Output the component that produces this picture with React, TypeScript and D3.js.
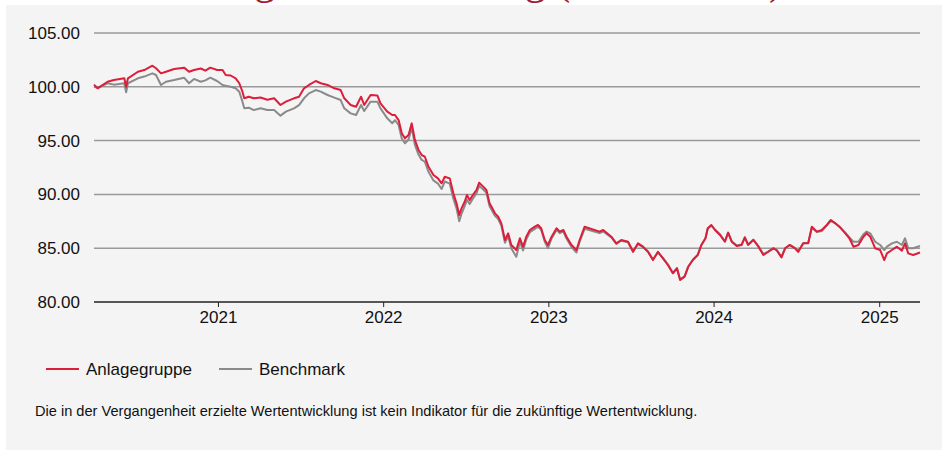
import * as d3 from 'd3';
import { useEffect, useRef } from 'react';

// Indexierte Werte
const dates = [
  '2020-04-01', '2020-04-09', '2020-05-01', '2020-05-15', '2020-06-07', '2020-06-11', '2020-06-15',
  '2020-07-07', '2020-07-21', '2020-08-08', '2020-08-16', '2020-08-27', '2020-09-07', '2020-09-25',
  '2020-10-17', '2020-10-28', '2020-11-08', '2020-11-23', '2020-12-03', '2020-12-14', '2020-12-29',
  '2021-01-10', '2021-01-17', '2021-01-28', '2021-02-08', '2021-02-16', '2021-02-23', '2021-02-27',
  '2021-03-09', '2021-03-20', '2021-04-04', '2021-04-19', '2021-05-04', '2021-05-18', '2021-05-30',
  '2021-06-17', '2021-06-28', '2021-07-09', '2021-07-20', '2021-08-04', '2021-08-15', '2021-08-30',
  '2021-09-14', '2021-09-28', '2021-10-06', '2021-10-20', '2021-11-01', '2021-11-12', '2021-11-19',
  '2021-12-03', '2021-12-18', '2021-12-25', '2022-01-09', '2022-01-20', '2022-01-26', '2022-02-03',
  '2022-02-10', '2022-02-17', '2022-02-25', '2022-03-04', '2022-03-11', '2022-03-19', '2022-03-26',
  '2022-04-02', '2022-04-10', '2022-04-21', '2022-05-01', '2022-05-09', '2022-05-16', '2022-05-27',
  '2022-06-04', '2022-06-11', '2022-06-17', '2022-06-22', '2022-06-29', '2022-07-04', '2022-07-10',
  '2022-07-17', '2022-07-25', '2022-07-31', '2022-08-09', '2022-08-16', '2022-08-23', '2022-09-04',
  '2022-09-11', '2022-09-18', '2022-09-26', '2022-10-03', '2022-10-10', '2022-10-21', '2022-10-29',
  '2022-11-05', '2022-11-12', '2022-11-20', '2022-12-01', '2022-12-08', '2022-12-15', '2022-12-23',
  '2022-12-30', '2023-01-07', '2023-01-18', '2023-01-25', '2023-02-02', '2023-02-09', '2023-02-20',
  '2023-03-03', '2023-03-10', '2023-03-21', '2023-04-23', '2023-05-01', '2023-05-19', '2023-05-30',
  '2023-06-10', '2023-06-25', '2023-07-06', '2023-07-17', '2023-07-28', '2023-08-08', '2023-08-19',
  '2023-08-30', '2023-09-10', '2023-09-21', '2023-10-02', '2023-10-11', '2023-10-18', '2023-10-28',
  '2023-11-05', '2023-11-15', '2023-11-26', '2023-12-04', '2023-12-13', '2023-12-18', '2023-12-26',
  '2024-01-03', '2024-01-14', '2024-01-25', '2024-02-01', '2024-02-09', '2024-02-20', '2024-03-02',
  '2024-03-09', '2024-03-16', '2024-03-28', '2024-04-08', '2024-04-19', '2024-04-30', '2024-05-11',
  '2024-05-18', '2024-05-29', '2024-06-06', '2024-06-16', '2024-06-28', '2024-07-05', '2024-07-16',
  '2024-07-27', '2024-08-04', '2024-08-15', '2024-08-26', '2024-09-06', '2024-09-15', '2024-09-25',
  '2024-10-04', '2024-10-17', '2024-10-26', '2024-11-04', '2024-11-15', '2024-11-26', '2024-12-03',
  '2024-12-11', '2024-12-22', '2025-01-02', '2025-01-11', '2025-01-17', '2025-01-28', '2025-02-08',
  '2025-02-19', '2025-02-26', '2025-03-05', '2025-03-16', '2025-03-31',
];

const anlagegruppe = [
  100.2, 99.86, 100.47, 100.63, 100.79, 100.01, 100.79,
  101.4, 101.56, 101.96, 101.72, 101.25, 101.4, 101.65,
  101.78, 101.4, 101.56, 101.7, 101.5, 101.78, 101.56,
  101.56, 101.1, 101.05, 100.79, 100.33, 99.55, 98.93,
  99.08, 98.93, 99.0, 98.8, 98.93, 98.31, 98.62,
  98.93, 99.08, 99.86, 100.17, 100.54, 100.33, 100.17,
  99.86, 99.7, 98.93, 98.31, 98.15, 99.08, 98.31,
  99.24, 99.2, 98.47, 97.69, 97.38, 97.38, 96.91,
  95.68, 95.21, 95.52, 96.6, 95.06, 94.13, 93.66,
  93.5, 92.57, 91.8, 91.49, 91.03, 91.64, 91.49,
  90.1, 89.17, 88.09, 88.7, 89.32, 89.94, 89.47,
  89.94, 90.41, 91.09, 90.72, 90.41, 89.17, 88.24,
  87.93, 87.31, 85.76, 86.38, 85.3, 84.83, 85.92,
  85.14, 86.07, 86.69, 87.0, 87.16, 86.85, 85.76,
  85.3, 86.07, 86.85, 86.54, 86.69, 86.07, 85.3,
  84.83, 85.76, 87.0, 86.54, 86.69, 86.07, 85.45,
  85.76, 85.6, 84.67, 85.45, 85.14, 84.67, 83.9,
  84.67, 84.06, 83.44, 82.67, 83.13, 82.04, 82.35,
  83.28, 83.9, 84.37, 85.3, 85.92, 86.85, 87.16,
  86.69, 86.23, 85.6, 86.44, 85.6, 85.2, 85.3,
  86.01, 85.3, 85.76, 85.14, 84.37, 84.67, 84.99,
  84.83, 84.15, 84.99, 85.3, 84.99, 84.67, 85.45,
  85.45, 87.0, 86.54, 86.69, 87.16, 87.62, 87.31,
  87.0, 86.38, 85.92, 85.14, 85.3, 86.07, 86.38,
  86.07, 84.99, 84.83, 83.9, 84.52, 84.83, 85.14,
  84.77, 85.45, 84.52, 84.37, 84.6,
];

const benchmark = [
  100.0, 99.9, 100.33, 100.2, 100.33, 99.49, 100.33,
  100.79, 100.95, 101.25, 101.1, 100.17, 100.47, 100.63,
  100.85, 100.33, 100.73, 100.47, 100.6, 100.85, 100.54,
  100.17, 100.1, 100.01, 99.86, 99.55, 98.62, 98.0,
  98.06, 97.84, 98.0, 97.84, 97.84, 97.32, 97.69,
  98.0, 98.3, 98.93, 99.39, 99.7, 99.55, 99.24,
  99.0, 98.77, 98.0, 97.53, 97.38, 98.31, 97.75,
  98.62, 98.62, 98.0, 97.07, 96.61, 96.9, 96.45,
  95.2, 94.75, 95.1, 96.2, 94.6, 93.7, 93.2,
  93.05, 92.1, 91.3, 91.0, 90.5, 91.2, 91.0,
  89.6, 88.7, 87.5, 88.2, 88.9, 89.5, 89.1,
  89.6, 90.1, 90.8, 90.45, 90.15, 88.9, 88.0,
  87.7, 87.1, 85.5, 86.1, 85.0, 84.2, 85.6,
  84.8, 85.8, 86.5, 86.8, 87.0, 86.7, 85.6,
  85.0, 85.9, 86.7, 86.4, 86.55, 85.9, 85.1,
  84.6, 85.6, 86.8, 86.4, 86.55, 86.0, 85.4,
  85.7, 85.55, 84.7, 85.4, 85.1, 84.7, 83.95,
  84.6, 84.1, 83.5, 82.7, 83.15, 82.1, 82.4,
  83.3, 83.9, 84.4, 85.3, 85.9, 86.8, 87.1,
  86.75, 86.3, 85.65, 86.45, 85.65, 85.25, 85.35,
  86.0, 85.35, 85.8, 85.2, 84.45, 84.7, 85.0,
  84.85, 84.2, 85.0, 85.3, 85.0, 84.7, 85.45,
  85.5, 86.9, 86.5, 86.6, 87.1, 87.55, 87.3,
  87.0, 86.45, 86.0, 85.6, 85.6, 86.3, 86.54,
  86.38, 85.6, 85.3, 84.83, 85.14, 85.45, 85.6,
  85.3, 85.92, 84.99, 84.99, 85.2,
];

const seriesNames = ['Anlagegruppe', 'Benchmark'];
const seriesColors = ['#dc1e3a', '#8a8a8a'];
const yTicks = [80, 85, 90, 95, 100, 105];
const xTickYears = [2021, 2022, 2023, 2024, 2025];
const title = 'Wertentwicklung seit Lancierung (Basis = 100)';
const footnote =
  'Die in der Vergangenheit erzielte Wertentwicklung ist kein Indikator für die zukünftige Wertentwicklung.';

export default function App() {
  const svgRef = useRef<SVGSVGElement | null>(null);

  useEffect(() => {
    const width = 942;
    const height = 450;
    const margin = { top: 33, right: 22, bottom: 148, left: 94 };
    const font = '"Liberation Sans", Arial, sans-serif';

    const parse = d3.timeParse('%Y-%m-%d');
    const x = d3
      .scaleTime()
      .domain([parse('2020-04-01')!, parse('2025-03-31')!])
      .range([margin.left, width - margin.right]);
    const y = d3
      .scaleLinear()
      .domain([80, 105])
      .range([height - margin.bottom, margin.top]);

    d3.select(svgRef.current).selectAll('*').remove();
    const svg = d3.select(svgRef.current).attr('width', width).attr('height', height);

    // Hintergrund
    svg.append('rect').attr('width', width).attr('height', height).attr('fill', '#ffffff');
    svg
      .append('rect')
      .attr('x', 6)
      .attr('y', 5)
      .attr('width', width - 6)
      .attr('height', height - 5)
      .attr('fill', '#f4f4f4');

    // Titel (in der Vorlage oben abgeschnitten)
    svg
      .append('text')
      .attr('x', 783)
      .attr('y', -6)
      .attr('text-anchor', 'end')
      .attr('font-family', '"Liberation Serif", "Times New Roman", serif')
      .attr('font-size', '42px')
      .attr('fill', '#a6192e')
      .text(title);

    // Gitterlinien + Y-Beschriftung
    yTicks.forEach((v) => {
      if (v !== 80) {
        svg
          .append('line')
          .attr('x1', margin.left)
          .attr('x2', width - margin.right)
          .attr('y1', y(v))
          .attr('y2', y(v))
          .attr('stroke', '#9a9a9a')
          .attr('stroke-width', 1.5);
      }
      svg
        .append('text')
        .attr('x', 80)
        .attr('y', y(v))
        .attr('dy', '0.35em')
        .attr('text-anchor', 'end')
        .attr('font-family', font)
        .attr('font-size', '17px')
        .attr('fill', '#111')
        .text(v.toFixed(2));
    });

    // X-Achse
    svg
      .append('line')
      .attr('x1', margin.left)
      .attr('x2', width - margin.right)
      .attr('y1', y(80))
      .attr('y2', y(80))
      .attr('stroke', '#222')
      .attr('stroke-width', 1.5);

    xTickYears.forEach((yr) => {
      const xp = x(new Date(yr, 0, 1));
      svg
        .append('line')
        .attr('x1', xp)
        .attr('x2', xp)
        .attr('y1', y(80))
        .attr('y2', y(80) + 5)
        .attr('stroke', '#222')
        .attr('stroke-width', 1);
      svg
        .append('text')
        .attr('x', xp)
        .attr('y', 323)
        .attr('text-anchor', 'middle')
        .attr('font-family', font)
        .attr('font-size', '17px')
        .attr('fill', '#111')
        .text(String(yr));
    });

    // Linien
    const parsed = dates.map((d) => parse(d)!);
    const line = d3
      .line<number>()
      .x((_, i) => x(parsed[i]))
      .y((v) => y(v));

    [benchmark, anlagegruppe].forEach((values, k) => {
      svg
        .append('path')
        .datum(values)
        .attr('d', line)
        .attr('fill', 'none')
        .attr('stroke', k === 0 ? seriesColors[1] : seriesColors[0])
        .attr('stroke-width', 2)
        .attr('stroke-linejoin', 'round');
    });

    // Legende
    const legendX = [46, 219];
    seriesNames.forEach((name, i) => {
      svg
        .append('line')
        .attr('x1', legendX[i])
        .attr('x2', legendX[i] + 33)
        .attr('y1', 369)
        .attr('y2', 369)
        .attr('stroke', seriesColors[i])
        .attr('stroke-width', 2);
      svg
        .append('text')
        .attr('x', legendX[i] + 40)
        .attr('y', 375)
        .attr('font-family', font)
        .attr('font-size', '17px')
        .attr('fill', '#111')
        .text(name);
    });

    // Fussnote
    svg
      .append('text')
      .attr('x', 35)
      .attr('y', 416)
      .attr('font-family', font)
      .attr('font-size', '14.6px')
      .attr('fill', '#111')
      .text(footnote);
  }, []);

  return <svg ref={svgRef} style={{ position: 'absolute', left: 0, top: 0, display: 'block' }} />;
}
